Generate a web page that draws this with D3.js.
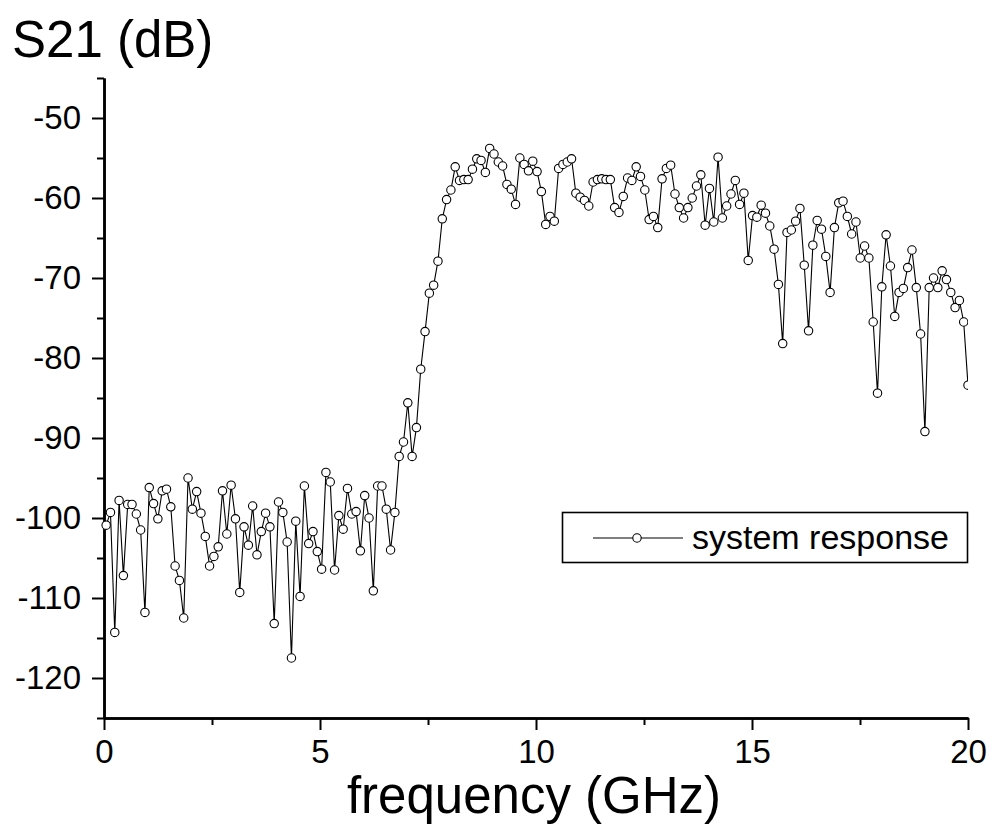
<!DOCTYPE html>
<html>
<head>
<meta charset="utf-8">
<script src="https://cdn.jsdelivr.net/npm/d3@7"></script>
<style>
  body { margin: 0; background: #fff; }
  svg text { font-family: 'Liberation Sans', Arial, sans-serif; fill: #000; }
</style>
</head>
<body>
<div id="chart"></div>
<script>
// network analyzer sweep: 50 MHz .. 20 GHz, 201 points
const sweepStart = 0.05;
const sweepStop = 20;
const sweepPoints = 201;

// S21 readings (dB), one per sweep point
const s21 = [
  -100.9, -99.3, -114.3, -97.8, -107.2, -98.3, -98.3, -99.5, -101.5, -111.8,
  -96.2, -98.2, -100.1, -96.6, -96.4, -98.6, -106.0, -107.8, -112.5, -95.0,
  -98.9, -96.7, -99.4, -102.3, -106.0, -104.8, -103.6, -96.6, -102.0, -95.9,
  -100.1, -109.3, -101.1, -103.4, -98.5, -104.6, -101.7, -99.4, -101.1, -113.2,
  -98.0, -99.3, -103.0, -117.5, -100.4, -109.8, -96.0, -103.2, -101.7, -104.2,
  -106.4, -94.3, -95.5, -106.5, -99.7, -101.4, -96.3, -99.5, -99.2, -104.1,
  -97.2, -100.0, -109.1, -96.0, -96.0, -98.9, -104.0, -99.3, -92.3, -90.5,
  -85.6, -92.3, -88.7, -81.4, -76.7, -71.9, -70.9, -67.9, -62.6, -60.2,
  -59.0, -56.1, -57.8, -57.7, -57.7, -56.4, -55.1, -55.3, -56.8, -53.8,
  -54.5, -55.5, -56.0, -58.3, -58.9, -60.8, -55.0, -55.8, -56.6, -55.4,
  -56.7, -59.2, -63.3, -62.3, -62.9, -56.3, -55.8, -55.5, -55.1, -59.4,
  -59.9, -60.3, -61.0, -58.0, -57.7, -57.6, -57.7, -57.7, -61.2, -61.8,
  -59.8, -57.5, -57.8, -56.1, -57.3, -59.0, -62.7, -62.3, -63.7, -57.6,
  -56.3, -55.9, -59.5, -61.2, -62.5, -61.2, -60.0, -58.5, -57.1, -63.4,
  -58.8, -63.0, -54.9, -62.5, -61.0, -59.5, -57.8, -60.8, -59.4, -67.8,
  -62.2, -62.4, -60.9, -61.9, -63.5, -66.4, -70.8, -78.2, -64.3, -64.0,
  -62.9, -61.3, -68.4, -76.6, -65.9, -62.8, -63.9, -67.3, -71.8, -63.7,
  -60.6, -60.4, -62.3, -64.5, -63.0, -67.5, -66.0, -67.5, -75.5, -84.4,
  -71.1, -64.6, -68.5, -74.8, -71.8, -71.3, -68.7, -66.5, -71.2, -77.0,
  -89.2, -71.2, -70.0, -71.2, -69.1, -70.2, -71.8, -73.7, -72.8, -75.5,
  -83.4,
];

const xTicks = [0, 5, 10, 15, 20];
const xMinorTicks = [2.5, 7.5, 12.5, 17.5];
const yTicks = [-120, -110, -100, -90, -80, -70, -60, -50];
const yMinorTicks = [-125, -115, -105, -95, -85, -75, -65, -55, -45];

const yTitle = 'S21 (dB)';
const xTitle = 'frequency (GHz)';
const seriesName = 'system response';

const w = 990;
const h = 825;

const svg = d3.select('#chart')
  .append('svg')
  .attr('width', w)
  .attr('height', h);

svg.append('rect')
  .attr('width', w)
  .attr('height', h)
  .attr('fill', '#fff');

const x = d3.scaleLinear().domain([0, 20]).range([104, 968]);
const y = d3.scaleLinear().domain([-125, -45]).range([718, 78]);

const freq = d3.range(sweepPoints)
  .map((i) => sweepStart + i * (sweepStop - sweepStart) / (sweepPoints - 1));
const points = s21.map((v, i) => ({ f: freq[i], v }));

// plain hyphen minus, as in the original figure
const plainLabel = (d) => String(d);

function styleAxis(g) {
  g.select('.domain').attr('stroke-width', 2.5);
  g.selectAll('.tick line').attr('stroke-width', 2);
  g.selectAll('.tick text')
    .style('font-size', '33px')
    .style('font-family', "'Liberation Sans', Arial, sans-serif");
}

// minor ticks first so major ticks/labels sit on top
svg.append('g')
  .attr('transform', 'translate(0,718)')
  .call(d3.axisBottom(x).tickValues(xMinorTicks).tickSize(7).tickFormat('').tickSizeOuter(0))
  .call(styleAxis);

svg.append('g')
  .attr('transform', 'translate(104,0)')
  .call(d3.axisLeft(y).tickValues(yMinorTicks).tickSize(7).tickFormat('').tickSizeOuter(0))
  .call(styleAxis);

svg.append('g')
  .attr('transform', 'translate(0,718)')
  .call(d3.axisBottom(x).tickValues(xTicks).tickSize(12).tickPadding(10)
    .tickFormat(plainLabel).tickSizeOuter(0))
  .call(styleAxis);

svg.append('g')
  .attr('transform', 'translate(104,0)')
  .call(d3.axisLeft(y).tickValues(yTicks).tickSize(12).tickPadding(11)
    .tickFormat(plainLabel).tickSizeOuter(0))
  .call(styleAxis);

// clip only on the right edge, like the reference
svg.append('clipPath')
  .attr('id', 'plotClip')
  .append('rect')
  .attr('x', 90)
  .attr('y', 60)
  .attr('width', 968 - 90)
  .attr('height', 680);

const plot = svg.append('g').attr('clip-path', 'url(#plotClip)');

const line = d3.line()
  .x((d) => x(d.f))
  .y((d) => y(d.v));

plot.append('path')
  .datum(points)
  .attr('d', line)
  .attr('fill', 'none')
  .attr('stroke', '#000')
  .attr('stroke-width', 1.1);

plot.selectAll('circle')
  .data(points)
  .enter()
  .append('circle')
  .attr('cx', (d) => x(d.f))
  .attr('cy', (d) => y(d.v))
  .attr('r', 4.2)
  .attr('fill', '#fff')
  .attr('stroke', '#000')
  .attr('stroke-width', 1.1);

// titles
svg.append('text')
  .attr('x', 12)
  .attr('y', 57)
  .style('font-size', '51px')
  .text(yTitle);

svg.append('text')
  .attr('x', 534)
  .attr('y', 813)
  .attr('text-anchor', 'middle')
  .style('font-size', '51px')
  .text(xTitle);

// legend
const legend = svg.append('g');

legend.append('rect')
  .attr('x', 562.5)
  .attr('y', 512.5)
  .attr('width', 405)
  .attr('height', 50)
  .attr('fill', '#fff')
  .attr('stroke', '#000')
  .attr('stroke-width', 1.6);

legend.append('line')
  .attr('x1', 593)
  .attr('x2', 683)
  .attr('y1', 538)
  .attr('y2', 538)
  .attr('stroke', '#000')
  .attr('stroke-width', 1.1);

legend.append('circle')
  .attr('cx', 637)
  .attr('cy', 538)
  .attr('r', 4.2)
  .attr('fill', '#fff')
  .attr('stroke', '#000')
  .attr('stroke-width', 1.1);

legend.append('text')
  .attr('x', 692)
  .attr('y', 549)
  .style('font-size', '34px')
  .text(seriesName);
</script>
</body>
</html>
